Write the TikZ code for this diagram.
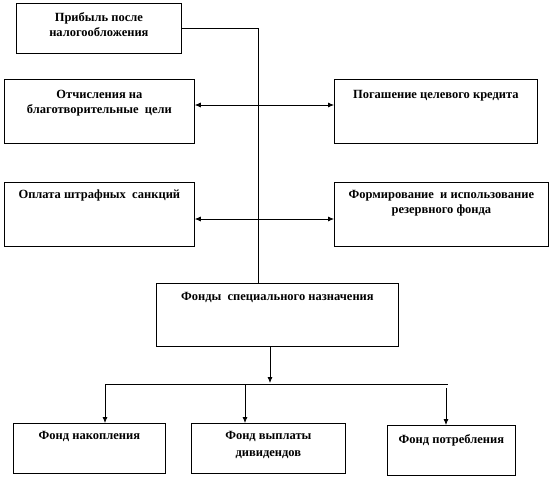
\documentclass[tikz,border=0pt]{standalone}
\usepackage{fontspec}
\setmainfont{Liberation Serif}
\usetikzlibrary{arrows.meta}

% box text: height, width, first baseline, lines
\newcommand{\blktext}[4]{\parbox[t][#1][t]{#2}{\centering\rule{0pt}{#3}#4}}

\begin{document}
\begin{tikzpicture}[x=1pt,y=-1pt,
  line width=0.75pt,
  blk/.style={draw, inner sep=0pt, anchor=north west,
    font=\bfseries\fontsize{12.5}{15}\selectfont},
  arr/.style={-{Latex[length=6pt,width=5pt]}}]
  \useasboundingbox (0,0) rectangle (553,480);

  \node[blk] (prib) at (16,3) {\blktext{50pt}{165pt}{18pt}{Прибыль после\\налогообложения}};
  \node[blk] (otch) at (4,79) {\blktext{64pt}{190pt}{19pt}{Отчисления на\\благотворительные\ \ цели}};
  \node[blk] (pog) at (334,79) {\blktext{64pt}{203pt}{19pt}{Погашение целевого кредита}};
  \node[blk] (opl) at (4,182) {\blktext{64pt}{190pt}{16pt}{Оплата штрафных\ \ санкций}};
  \node[blk] (form) at (334,182) {\blktext{64pt}{214pt}{16pt}{Формирование\ \ и использование\\резервного фонда}};
  \node[blk] (fonds) at (156,283) {\blktext{63pt}{242pt}{17pt}{Фонды\ \ специального назначения}};
  \node[blk] (nak) at (13,423) {\blktext{50pt}{152pt}{16pt}{Фонд накопления}};
  \node[blk] (div) at (191,423) {\blktext{50pt}{154pt}{16pt}{Фонд выплаты\\[2pt]дивидендов}};
  \node[blk] (potr) at (387,425) {\blktext{50pt}{128pt}{18pt}{Фонд потребления}};

  % spine from the profit box
  \coordinate (spine) at (258,283);
  \coordinate (j1) at (258,105);
  \coordinate (j2) at (258,219);
  \draw (prib.east) -| (spine);
  \draw[arr] (j1) -- (otch.east |- j1);
  \draw[arr] (j1) -- (pog.west |- j1);
  \draw[arr] (j2) -- (opl.east |- j2);
  \draw[arr] (j2) -- (form.west |- j2);

  % funds split
  \coordinate (mid) at (270,383);
  \coordinate (lbr) at (105,384);
  \coordinate (cbr) at (245,384);
  \coordinate (rbr) at (448,384);
  \coordinate (pbr) at (446,388);
  \draw[arr] (fonds.south -| mid) -- (mid);
  \draw (lbr) -- (rbr);
  \draw[arr] (lbr) -- (lbr |- nak.north);
  \draw[arr] (cbr) -- (cbr |- div.north);
  \draw[arr] (pbr) -- (pbr |- potr.north);
\end{tikzpicture}
\end{document}
